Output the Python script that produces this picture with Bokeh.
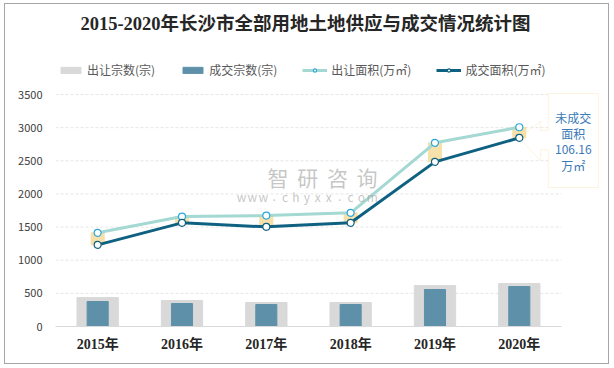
from bokeh.plotting import figure
from bokeh.models import (Range1d, FixedTicker, Legend, LegendItem, Label, PolyAnnotation)
from bokeh.embed import file_html
from bokeh.resources import INLINE

years = ["2015年", "2016年", "2017年", "2018年", "2019年", "2020年"]
supply_count = [437, 392, 362, 362, 618, 648]       # 出让宗数(宗)
deal_count = [377, 347, 332, 332, 558, 603]         # 成交宗数(宗)
supply_area = [1413, 1659, 1674, 1715, 2771, 3006]  # 出让面积(万㎡)
deal_area = [1232, 1564, 1503, 1564, 2484, 2846]    # 成交面积(万㎡)
y_ticks = [0, 500, 1000, 1500, 2000, 2500, 3000, 3500]
title = "2015-2020年长沙市全部用地土地供应与成交情况统计图"
callout_lines = ["未成交", "面积", "106.16", "万㎡"]
watermark_cn = "智研咨询"
watermark_url = "www.chyxx.com"

# layout (page pixels)
OX, OY = 5, 4            # figure position on page
W, H = 603, 359          # figure size
PL, PB = 55, 326         # page x of category-area left, page y of value 0
CW = 84.33               # px per category
PY = 232 / 3500          # px per value unit
FL = PL - OX
FH = PB - OY
N = len(years)
SERIF = "Liberation Serif, Noto Sans CJK SC"
SANS = "Noto Sans CJK SC"
xs = list(range(N))

def dx(px):  # page x -> data x
    return -0.5 + (px - PL) / CW

def dy(py):  # page y -> data y
    return (PB - py) / PY

p = figure(width=W, height=H, output_backend="svg", toolbar_location=None,
           x_range=Range1d(-0.5, dx(OX + W)), y_range=Range1d(0, dy(OY)),
           min_border_left=FL, min_border_right=0,
           min_border_top=0, min_border_bottom=H - FH)
p.margin = (OY, 0, 0, OX)
p.styles = {"outline": "1px solid #a6a6a6", "outline-offset": "0px"}
p.outline_line_color = None
p.background_fill_color = "white"
p.border_fill_color = "white"

# axes
p.yaxis.ticker = FixedTicker(ticks=y_ticks)
p.yaxis.axis_line_color = None
p.yaxis.major_tick_line_color = None
p.yaxis.minor_tick_line_color = None
p.yaxis.major_label_text_font = SANS
p.yaxis.major_label_text_font_size = "11px"
p.yaxis.major_label_text_color = "#404040"
p.yaxis.major_label_standoff = 7

p.xaxis.ticker = FixedTicker(ticks=xs)
p.xaxis.major_label_overrides = {i: y for i, y in enumerate(years)}
p.xaxis.bounds = (-0.5, N - 0.5)
p.xaxis.axis_line_color = "#d9d9d9"
p.xaxis.major_tick_line_color = None
p.xaxis.minor_tick_line_color = None
p.xaxis.major_label_text_font = SERIF
p.xaxis.major_label_text_font_style = "bold"
p.xaxis.major_label_text_font_size = "14px"
p.xaxis.major_label_text_color = "#262626"
p.xaxis.major_label_standoff = 4

p.xgrid.grid_line_color = None
p.ygrid.grid_line_color = None
p.segment(x0=-0.5, x1=N - 0.5, y0=y_ticks[1:], y1=y_ticks[1:],
          line_color="#e6e6e6", line_dash="3 2", line_width=1)

# bars
r_sc = p.vbar(x=xs, top=supply_count, width=0.49, color="#d9d9d9")
r_dc = p.vbar(x=xs, top=deal_count, width=0.25, color="#5e91a9")

# difference highlight
p.vbar(x=xs, bottom=deal_area, top=supply_area, width=0.155, color="#f6dea2", alpha=0.9)

# lines
r_sl = p.line(xs, supply_area, line_color="#a3d8d3", line_width=3)
r_dl = p.line(xs, deal_area, line_color="#0f6182", line_width=3)
r_sm = p.scatter(xs, supply_area, size=7, fill_color="white", line_color="#2ca6dc", line_width=1.2)
r_dm = p.scatter(xs, deal_area, size=7, fill_color="white", line_color="#0f6182", line_width=1.2)

# legend
legend = Legend(items=[
    LegendItem(label="出让宗数(宗)", renderers=[r_sc]),
    LegendItem(label="成交宗数(宗)", renderers=[r_dc]),
    LegendItem(label="出让面积(万㎡)", renderers=[r_sl, r_sm]),
    LegendItem(label="成交面积(万㎡)", renderers=[r_dl, r_dm]),
], orientation="horizontal", location=(3, 248))
legend.border_line_color = None
legend.background_fill_alpha = 0
legend.padding = 0
legend.margin = 0
legend.spacing = 25
legend.glyph_width = 25
legend.glyph_height = 8
legend.label_standoff = 4
legend.label_text_font = SANS
legend.label_text_font_size = "12px"
legend.label_text_color = "#595959"
p.add_layout(legend, "center")

# title
p.add_layout(Label(x=dx(305), y=dy(23), text=title, text_align="center", text_baseline="middle",
                   text_font=SERIF, text_font_style="bold",
                   text_font_size="18.5px", text_color="#262626"))

# watermark (letter-spaced)
for i, ch in enumerate(watermark_cn):
    p.add_layout(Label(x=dx(277.5 + i * 29.7), y=dy(176), text=ch, text_align="center",
                       text_baseline="middle", text_font=SANS, text_font_size="21px",
                       text_color="#a0a0a0", text_alpha=0.6))
for i, ch in enumerate(watermark_url):
    p.add_layout(Label(x=dx(241 + i * 10.9), y=dy(196), text=ch, text_align="center",
                       text_baseline="middle", text_font=SANS, text_font_size="12px",
                       text_color="#a0a0a0", text_alpha=0.6))

# callout
tip_px = PL + (N - 0.5) * CW
ty_px = PB - deal_area[-1] * PY
bx = [29, 79, 79, 29]
by = [-44.3, -44.3, 49.7, 49.7]
p.add_layout(PolyAnnotation(xs=[dx(tip_px + v) for v in bx], ys=[dy(ty_px + v) for v in by],
                            fill_color="white", fill_alpha=1, line_color=None))
cx = [29, 29, 79, 79, 29, 29, 21, 21, 0, 21, 21]
cy = [-7.3, -44.3, -44.3, 49.7, 49.7, 12, 12, 22.7, 0, -16.6, -7.3]
p.add_layout(PolyAnnotation(xs=[dx(tip_px + v) for v in cx], ys=[dy(ty_px + v) for v in cy],
                            fill_alpha=0, line_color="#f8d68a", line_width=1))
for i, t in enumerate(callout_lines):
    p.add_layout(Label(x=dx(tip_px + 54), y=dy(ty_px - 20.6 + i * 16), text=t, text_align="center",
                       text_baseline="middle", text_font=SANS,
                       text_font_size="12px", text_color="#3a7ab5"))

open("out.html", "w").write(file_html(p, INLINE))
